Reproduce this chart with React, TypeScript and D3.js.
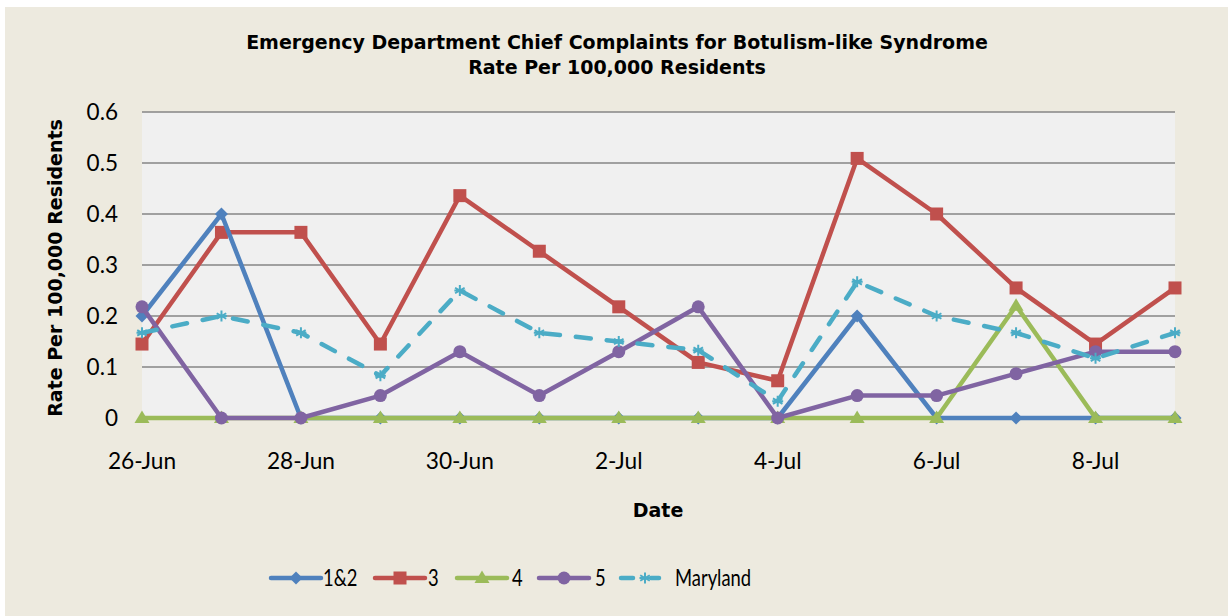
import React, { useEffect, useRef } from 'react';
import * as d3 from 'd3';

const dates = ['26-Jun', '27-Jun', '28-Jun', '29-Jun', '30-Jun', '1-Jul', '2-Jul', '3-Jul', '4-Jul', '5-Jul', '6-Jul', '7-Jul', '8-Jul', '9-Jul'];
const shownDates = ['26-Jun', '28-Jun', '30-Jun', '2-Jul', '4-Jul', '6-Jul', '8-Jul'];
const yTicks = [0, 0.1, 0.2, 0.3, 0.4, 0.5, 0.6];

const region12 = [0.2, 0.4, 0, 0, 0, 0, 0, 0, 0, 0.2, 0, 0, 0, 0];
const region3 = [0.145, 0.364, 0.364, 0.145, 0.436, 0.327, 0.218, 0.109, 0.073, 0.509, 0.4, 0.255, 0.145, 0.255];
const region4 = [0, 0, 0, 0, 0, 0, 0, 0, 0, 0, 0, 0.22, 0, 0];
const region5 = [0.218, 0, 0, 0.044, 0.13, 0.044, 0.13, 0.218, 0, 0.044, 0.044, 0.087, 0.13, 0.13];
const maryland = [0.167, 0.2, 0.167, 0.083, 0.25, 0.167, 0.15, 0.133, 0.033, 0.267, 0.2, 0.167, 0.117, 0.167];

type Marker = 'diamond' | 'square' | 'triangle' | 'circle' | 'asterisk';

interface Series {
  name: string;
  values: number[];
  color: string;
  marker: Marker;
  dashed?: boolean;
}

const series: Series[] = [
  { name: '1&2', values: region12, color: '#4F81BD', marker: 'diamond' },
  { name: '3', values: region3, color: '#C0504D', marker: 'square' },
  { name: '4', values: region4, color: '#9BBB59', marker: 'triangle' },
  { name: '5', values: region5, color: '#8064A2', marker: 'circle' },
  { name: 'Maryland', values: maryland, color: '#4BACC6', marker: 'asterisk', dashed: true },
];

const W = 1228;
const H = 616;
const plot = { left: 142, right: 1175, top: 112, bottom: 418 };
const boldFont = '"DejaVu Sans", sans-serif';
const tickFont = 'Lato, sans-serif';

function drawMarker(g: d3.Selection<SVGGElement, unknown, null, undefined>, m: Marker, x: number, y: number, color: string) {
  if (m === 'diamond') {
    g.append('path').attr('d', `M${x},${y - 6.5}L${x + 6.5},${y}L${x},${y + 6.5}L${x - 6.5},${y}Z`).attr('fill', color);
  } else if (m === 'square') {
    g.append('rect').attr('x', x - 6.5).attr('y', y - 6.5).attr('width', 13).attr('height', 13).attr('fill', color);
  } else if (m === 'triangle') {
    g.append('path').attr('d', `M${x},${y - 7.5}L${x + 7.5},${y + 5}L${x - 7.5},${y + 5}Z`).attr('fill', color);
  } else if (m === 'circle') {
    g.append('circle').attr('cx', x).attr('cy', y).attr('r', 6.5).attr('fill', color);
  } else {
    const r = 5.5;
    const p = [0, 60, 120].map(a => {
      const t = (a * Math.PI) / 180;
      return `M${x + r * Math.sin(t)},${y - r * Math.cos(t)}L${x - r * Math.sin(t)},${y + r * Math.cos(t)}`;
    }).join('') + `M${x - r},${y}L${x + r},${y}`;
    g.append('path').attr('d', p).attr('stroke', color).attr('stroke-width', 2).attr('fill', 'none');
  }
}

const App: React.FC = () => {
  const svgRef = useRef<SVGSVGElement>(null);

  useEffect(() => {
    if (!svgRef.current) return;
    const svg = d3.select(svgRef.current);
    svg.selectAll('*').remove();

    svg.append('rect').attr('width', W).attr('height', H).attr('fill', '#ffffff');
    svg.append('rect').attr('x', 5).attr('y', 7).attr('width', W - 5).attr('height', H - 7).attr('fill', '#EDEADF');

    const x = d3.scalePoint<string>().domain(dates).range([plot.left, plot.right]);
    const y = d3.scaleLinear().domain([0, 0.6]).range([plot.bottom, plot.top]);

    // plot area
    svg.append('rect')
      .attr('x', plot.left).attr('y', plot.top)
      .attr('width', plot.right - plot.left).attr('height', plot.bottom - plot.top)
      .attr('fill', '#F0F0F0');

    // gridlines
    svg.append('g').selectAll('line').data(yTicks).enter().append('line')
      .attr('x1', plot.left).attr('x2', plot.right)
      .attr('y1', d => y(d)).attr('y2', d => y(d))
      .attr('stroke', '#868686').attr('stroke-width', 1.6);

    // y tick labels
    svg.append('g').selectAll('text').data(yTicks).enter().append('text')
      .attr('x', 118).attr('y', d => y(d))
      .attr('dy', '0.35em').attr('text-anchor', 'end')
      .attr('font-family', tickFont).attr('font-size', 22.5).attr('fill', '#000')
      .text(d => (d === 0 ? '0' : d.toFixed(1)));

    // x tick labels
    svg.append('g').selectAll('text').data(shownDates).enter().append('text')
      .attr('x', d => x(d) as number).attr('y', 469)
      .attr('text-anchor', 'middle')
      .attr('font-family', tickFont).attr('font-size', 22.7).attr('fill', '#000')
      .text(d => d);

    // titles
    const title = svg.append('text').attr('x', 617).attr('text-anchor', 'middle')
      .attr('font-family', boldFont).attr('font-weight', 'bold').attr('font-size', 19);
    title.append('tspan').attr('x', 617).attr('y', 49).text('Emergency Department Chief Complaints for Botulism-like Syndrome');
    title.append('tspan').attr('x', 617).attr('y', 74).text('Rate Per 100,000 Residents');

    svg.append('text').attr('x', 658).attr('y', 517).attr('text-anchor', 'middle')
      .attr('font-family', boldFont).attr('font-weight', 'bold').attr('font-size', 19)
      .text('Date');

    svg.append('text').attr('transform', 'translate(62,268) rotate(-90)').attr('text-anchor', 'middle')
      .attr('font-family', boldFont).attr('font-weight', 'bold').attr('font-size', 19)
      .text('Rate Per 100,000 Residents');

    // lines
    const line = d3.line<number>()
      .x((_, i) => x(dates[i]) as number)
      .y(d => y(d));

    const drawOrder = [1, 0, 2, 3, 4];
    drawOrder.forEach(si => {
      const s = series[si];
      const g = svg.append('g');
      g.append('path')
        .attr('d', line(s.values) as string)
        .attr('fill', 'none')
        .attr('stroke', s.color)
        .attr('stroke-width', 4.5)
        .attr('stroke-linejoin', 'round')
        .attr('stroke-linecap', s.dashed ? 'round' : 'butt')
        .attr('stroke-dasharray', s.dashed ? '15 16' : null);
      s.values.forEach((v, i) => drawMarker(g, s.marker, x(dates[i]) as number, y(v), s.color));
    });

    // legend
    const legendItems = [
      { s: series[0], x0: 271, tx: 323 },
      { s: series[1], x0: 375, tx: 428 },
      { s: series[2], x0: 457, tx: 512 },
      { s: series[3], x0: 539, tx: 595 },
      { s: series[4], x0: 621, tx: 675 },
    ];
    const ly = 578;
    legendItems.forEach(({ s, x0, tx }) => {
      const g = svg.append('g');
      if (s.dashed) {
        g.append('line').attr('x1', x0).attr('x2', x0 + 12).attr('y1', ly).attr('y2', ly)
          .attr('stroke', s.color).attr('stroke-width', 4.5).attr('stroke-linecap', 'round');
        g.append('line').attr('x1', x0 + 30).attr('x2', x0 + 38).attr('y1', ly).attr('y2', ly)
          .attr('stroke', s.color).attr('stroke-width', 4.5).attr('stroke-linecap', 'round');
        drawMarker(g, s.marker, x0 + 24, ly, s.color);
      } else {
        g.append('line').attr('x1', x0).attr('x2', x0 + 50).attr('y1', ly).attr('y2', ly)
          .attr('stroke', s.color).attr('stroke-width', 4.5).attr('stroke-linecap', 'round');
        drawMarker(g, s.marker, x0 + 25, ly, s.color);
      }
      g.append('text').attr('transform', `translate(${tx},${ly}) scale(0.8,1)`).attr('dy', '0.35em')
        .attr('font-family', tickFont).attr('font-size', 23).attr('fill', '#000')
        .text(s.name);
    });
  }, []);

  return (
    <svg
      ref={svgRef}
      width={W}
      height={H}
      style={{ position: 'absolute', left: 0, top: 0, display: 'block' }}
    />
  );
};

export default App;
